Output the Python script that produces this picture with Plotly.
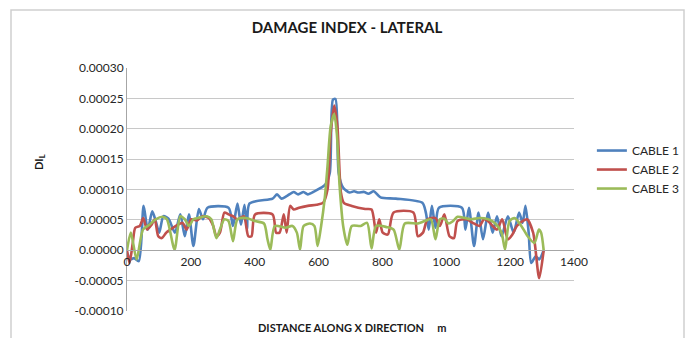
import plotly.graph_objects as go

# Cable 1 (distance in m, damage index)
x_c1 = [0, 11, 22, 37, 52, 65, 79, 90, 101, 114, 130, 150, 167, 181, 194, 208, 225, 238, 252,
        318, 332, 346, 357, 368, 376, 384, 456, 470, 484, 500, 522, 536, 553, 566, 587, 608,
        621, 635, 645, 653, 663, 677, 697, 711, 725, 743, 756, 773, 794, 842, 925, 936, 945,
        955, 966, 977, 1049, 1060, 1071, 1087, 1101, 1115, 1131, 1145, 1159, 1173, 1193, 1211,
        1228, 1239, 1248, 1258, 1266, 1280, 1291, 1305]
y_c1 = [-0.4e-5, -1.5e-5, -1.3e-5, -1.8e-5, 7.3e-5, 3.4e-5, 6.4e-5, 4.8e-5, 2.9e-5, 5.6e-5,
        5.2e-5, 2.9e-5, 5.9e-5, 2.3e-5, 5.9e-5, 0.7e-5, 6.8e-5, 5.1e-5, 7.0e-5,
        7.0e-5, 4.0e-5, 7.7e-5, 4.2e-5, 7.5e-5, 3.4e-5, 7.7e-5, 8.5e-5, 9.2e-5, 8.5e-5, 8.9e-5,
        9.6e-5, 9.2e-5, 9.6e-5, 9.2e-5, 9.7e-5, 10.3e-5, 10.8e-5, 12.7e-5, 24.8e-5, 24.9e-5,
        12.7e-5, 10.3e-5, 9.5e-5, 9.7e-5, 9.5e-5, 9.6e-5, 9.3e-5, 9.7e-5, 8.7e-5, 8.5e-5,
        7.8e-5, 6.2e-5, 3.4e-5, 7.3e-5, 3.7e-5, 7.0e-5, 7.0e-5, 3.4e-5, 7.0e-5, 0.7e-5, 6.2e-5,
        1.8e-5, 6.2e-5, 2.9e-5, 5.6e-5, 2.3e-5, 5.6e-5, 2.9e-5, 6.2e-5, 4.5e-5, 7.3e-5, 2.9e-5,
        -2.1e-5, -1.0e-5, -1.5e-5, 0.0]

# Cable 2
x_c2 = [0, 8, 18, 26, 40, 51, 63, 77, 87, 98, 109, 123, 136, 153, 174, 187, 201, 219, 236,
        256, 270, 280, 291, 305, 318, 332, 346, 366, 380, 390, 401, 456, 467, 478, 491, 500,
        511, 522, 539, 566, 594, 614, 628, 638, 649, 659, 670, 679, 704, 746, 766, 780, 790,
        801, 817, 835, 897, 911, 927, 941, 966, 980, 994, 1010, 1024, 1035, 1063, 1083, 1104,
        1118, 1131, 1145, 1159, 1175, 1193, 1207, 1221, 1239, 1253, 1272, 1291, 1305]
y_c2 = [0.0, -2.1e-5, 1.2e-5, 3.7e-5, 4.0e-5, 5.3e-5, 3.4e-5, 4.2e-5, 5.1e-5, 2.3e-5, 2.0e-5,
        2.9e-5, 3.4e-5, 4.0e-5, 4.5e-5, 3.4e-5, 5.1e-5, 4.9e-5, 5.6e-5, 5.3e-5, 4.0e-5, 2.3e-5,
        2.9e-5, 6.2e-5, 5.9e-5, 5.6e-5, 5.1e-5, 5.6e-5, 2.3e-5, 2.3e-5, 5.9e-5, 5.9e-5, 2.9e-5,
        2.9e-5, 5.9e-5, 2.9e-5, 7.3e-5, 6.7e-5, 7.0e-5, 7.3e-5, 7.5e-5, 7.8e-5, 10.0e-5,
        19.3e-5, 23.8e-5, 20.4e-5, 9.5e-5, 7.8e-5, 7.3e-5, 6.8e-5, 6.7e-5, 2.9e-5, 5.1e-5,
        2.9e-5, 2.6e-5, 6.2e-5, 6.2e-5, 2.3e-5, 2.9e-5, 5.1e-5, 5.3e-5, 4.0e-5, 5.9e-5, 2.3e-5,
        2.0e-5, 4.8e-5, 5.1e-5, 4.5e-5, 4.0e-5, 5.1e-5, 4.8e-5, 4.0e-5, 3.4e-5, 5.1e-5, 1.8e-5,
        2.6e-5, 4.0e-5, 4.8e-5, 5.1e-5, 2.9e-5, -4.6e-5, 0.0]

# Cable 3
x_c3 = [0, 12, 30, 50, 70, 90, 112, 125, 149, 167, 181, 194, 208, 222, 250, 264, 280, 291,
        305, 318, 332, 346, 373, 401, 429, 440, 449, 463, 497, 518, 532, 542, 553, 573, 587,
        597, 608, 619, 628, 638, 649, 657, 666, 677, 690, 704, 732, 752, 766, 780, 814, 835,
        853, 870, 911, 932, 952, 966, 980, 994, 1007, 1021, 1035, 1076, 1104, 1131, 1152,
        1173, 1184, 1198, 1214, 1235, 1255, 1276, 1290, 1297, 1305]
y_c3 = [0.0, 2.9e-5, -1.5e-5, 3.4e-5, 4.2e-5, 5.1e-5, 5.5e-5, 5.1e-5, 0.1e-5, 5.6e-5, 5.1e-5,
        4.0e-5, 5.1e-5, 5.3e-5, 5.6e-5, 5.1e-5, 2.0e-5, 3.4e-5, 5.1e-5, 4.8e-5, 1.5e-5, 5.1e-5,
        5.3e-5, 4.8e-5, 4.4e-5, 1.8e-5, 0.1e-5, 4.0e-5, 3.7e-5, 4.0e-5, 2.9e-5, 0.1e-5, 4.0e-5,
        4.4e-5, 4.0e-5, 0.7e-5, 4.0e-5, 8.4e-5, 13.8e-5, 20.4e-5, 22.4e-5, 19.3e-5, 10.5e-5,
        4.0e-5, 0.9e-5, 4.0e-5, 4.0e-5, 4.5e-5, 0.3e-5, 4.0e-5, 3.8e-5, 3.4e-5, 0.1e-5, 4.4e-5,
        4.4e-5, 4.8e-5, 5.1e-5, 1.8e-5, 5.1e-5, 5.2e-5, 4.4e-5, 4.8e-5, 5.5e-5, 5.1e-5, 5.3e-5,
        5.1e-5, 4.5e-5, 2.9e-5, 0.1e-5, 4.8e-5, 5.3e-5, 4.0e-5, 2.3e-5, 1.2e-5, 3.4e-5, 2.9e-5,
        0.0]

series_names = ["CABLE 1", "CABLE 2", "CABLE 3"]
series_colors = ["#4F81BD", "#C0504D", "#9BBB59"]

y_tick_vals = [-0.0001, -0.00005, 0.0, 0.00005, 0.0001, 0.00015, 0.0002, 0.00025, 0.0003]
y_tick_text = ["-0.00010", "-0.00005", "0.00000", "0.00005", "0.00010",
               "0.00015", "0.00020", "0.00025", "0.00030"]
x_tick_vals = [0, 200, 400, 600, 800, 1000, 1200, 1400]

FONT = "Lato"
TEXT = "#262626"

fig = go.Figure()
for xs, ys, name, color in zip([x_c1, x_c2, x_c3], [y_c1, y_c2, y_c3],
                               series_names, series_colors):
    fig.add_trace(go.Scatter(
        x=xs, y=ys, name=name, mode="lines",
        line=dict(color=color, width=2.6, shape="spline", smoothing=0.7),
    ))

fig.update_layout(
    width=689, height=338,
    margin=dict(l=127, r=115, t=68, b=27, autoexpand=False),
    paper_bgcolor="white", plot_bgcolor="white",
    font=dict(family=FONT, size=12, color=TEXT),
    title=dict(text="<b>DAMAGE INDEX - LATERAL</b>", x=347 / 689, xref="container",
               xanchor="center", y=1 - 28 / 338, yref="container", yanchor="middle",
               font=dict(family=FONT, size=15, color="#1a1a1a")),
    showlegend=True,
    legend=dict(x=1.040, xanchor="left", y=0.72, yanchor="top",
                font=dict(family=FONT, size=12, color=TEXT),
                tracegroupgap=0, itemwidth=30, bgcolor="rgba(0,0,0,0)"),
    xaxis=dict(range=[0, 1400], tickvals=x_tick_vals, showgrid=False, zeroline=False,
               anchor="free", position=0.25, showline=True, linecolor="#A6A6A6",
               linewidth=1, ticks="", tickfont=dict(family=FONT, size=12, color=TEXT)),
    yaxis=dict(range=[-0.0001, 0.0003], tickvals=y_tick_vals, ticktext=y_tick_text,
               showgrid=True, gridcolor="#C8C8C8", gridwidth=1.2, zeroline=False,
               showline=True, linecolor="#A6A6A6", linewidth=1, ticks="",
               tickfont=dict(family=FONT, size=12, color=TEXT)),
    shapes=[dict(type="rect", xref="paper", yref="paper",
                 x0=(11 - 127) / 447, x1=(684 - 127) / 447,
                 y0=-0.2, y1=(311 - 10) / 243,
                 line=dict(color="#CFCFCF", width=1.5), fillcolor="rgba(0,0,0,0)",
                 layer="below")],
    annotations=[
        dict(text="<b>DISTANCE ALONG X DIRECTION     m</b>", xref="paper", yref="paper",
             x=(352 - 127) / 447, y=(311 - 327) / 243, xanchor="center", yanchor="middle",
             showarrow=False, font=dict(family=FONT, size=11, color="#1a1a1a")),
        dict(text="<b>DI<sub>L</sub></b>", xref="paper", yref="paper",
             x=(39 - 127) / 447, y=(311 - 162) / 243, xanchor="center", yanchor="middle",
             textangle=-90, showarrow=False, font=dict(family=FONT, size=11, color="#1a1a1a")),
    ],
)

fig.write_html("out.html")
